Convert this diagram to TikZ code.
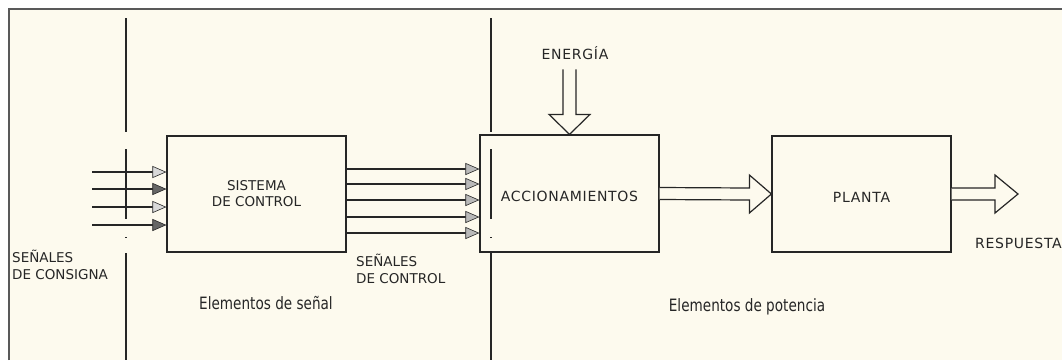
\documentclass[tikz,border=0pt]{standalone}
\usepackage{fontspec}
\setmainfont{DejaVu Sans}
\newfontfamily\narrowfont[FakeStretch=0.8]{DejaVu Sans}
\usepackage{xcolor}
\usepackage{tikz}
\usetikzlibrary{arrows.meta, calc, positioning}

\definecolor{paper}{HTML}{FDFAEE}
\definecolor{ink}{HTML}{262626}

\begin{document}
\begin{tikzpicture}[x=1pt, y=-1pt,
    block/.style={draw=ink, text=ink, line width=1.2pt, minimum width=179pt,
        minimum height=116pt, inner sep=0pt, align=center,
        font=\fontsize{13.5}{16}\selectfont},
    caps/.style={text=ink, inner sep=0pt, align=left, font=\fontsize{13.5}{17}\selectfont},
    spaced/.style={font=\fontsize{14}{17}\selectfont\addfontfeature{LetterSpace=5}},
    lowered/.style={text height=16pt, text depth=0pt},
    region/.style={text=ink, inner sep=0pt, font=\narrowfont\fontsize{17}{20}\selectfont},
    sepline/.style={draw=ink, line width=1.2pt,
        dash pattern=on 114pt off 17pt on 70pt off 18pt on 1pt off 15pt on 200pt},
    sig/.style={draw=ink, line width=1.2pt,
        -{Triangle[length=14pt, width=12pt, color=ink, fill=#1, line width=0.6pt]}},
    hollow/.style={draw=ink, line width=1.2pt, fill=paper, line join=miter}]
    \useasboundingbox (0,0) rectangle (1062,360);

    % sheet
    \fill[white] (0,0) rectangle (1062,360);
    \fill[paper] (9,9) rectangle (1062,360);
    \draw[gray!70!black, line width=1.2pt] (9,360) -- (9,9) -- (1062,9);

    % separators between signal and power parts
    \draw[sepline] (126,18) -- (126,360);
    \draw[sepline] (491,18) -- (491,360);

    % blocks
    \node[block] (sc) at (256.5,194) {SISTEMA\\DE CONTROL};
    \node[block, spaced, lowered, minimum height=117pt] (acc) at (569.5,193.5) {ACCIONAMIENTOS};
    \node[block, spaced, lowered] (pl) at (861.5,194) {PLANTA};

    % set-point signals
    \foreach \y/\tone [count=\i] in {172/gray!30, 189/gray!80!black, 207/gray!30, 225/gray!80!black} {
        \coordinate (in\i) at (92,\y);
        \draw[sig=\tone] (in\i) -- (in\i -| sc.west);
    }

    % control signals
    \foreach \y in {169,184,200,217,233}
        \draw[sig=gray!55] (sc.east |- 0,\y) -- (acc.west |- 0,\y);

    % energy input
    \node[caps, spaced] (en) at (575,53) {ENERGÍA};
    \draw[hollow] ($(acc.north)+(-6.5,-65)$) -- ($(acc.north)+(-6.5,-20)$)
        -- ($(acc.north)+(-20.5,-20)$) -- (acc.north) -- ($(acc.north)+(20.5,-20)$)
        -- ($(acc.north)+(6.5,-20)$) -- ($(acc.north)+(6.5,-65)$);

    % power flow
    \draw[hollow] ($(acc.east)+(0,-6)$) -- ($(pl.west)+(-22,-6)$) -- ($(pl.west)+(-22,-19)$)
        -- (pl.west) -- ($(pl.west)+(-22,19)$) -- ($(pl.west)+(-22,6)$) -- ($(acc.east)+(0,6)$);
    \coordinate (out) at (1018,194);
    \draw[hollow] ($(pl.east)+(0,-6)$) -- ($(out)+(-23,-6)$) -- ($(out)+(-23,-19)$)
        -- (out) -- ($(out)+(-23,19)$) -- ($(out)+(-23,6)$) -- ($(pl.east)+(0,6)$);

    % labels
    \node[caps, anchor=west] (cons) at (12,264.5) {SEÑALES\\DE CONSIGNA};
    \node[caps, anchor=west] (ctl) at (356,268.5) {SEÑALES\\DE CONTROL};
    \node[caps, spaced, anchor=west] (resp) at (975,243) {RESPUESTA};
    \node[region] (sen) at (266,303) {Elementos de señal};
    \node[region] (pot) at (747,307) {Elementos de potencia};
\end{tikzpicture}
\end{document}
